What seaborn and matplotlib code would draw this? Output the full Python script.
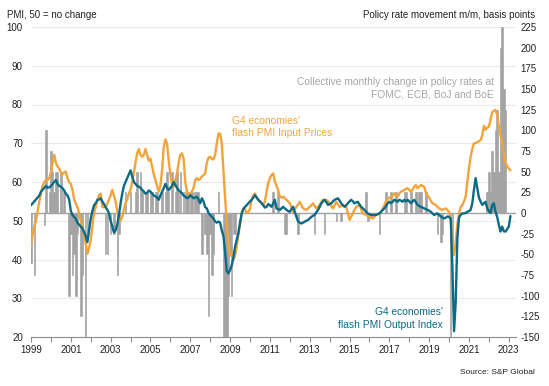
import numpy as np
import pandas as pd
import matplotlib
matplotlib.use("Agg")
import matplotlib.pyplot as plt
import seaborn as sns

# ---------------- data (monthly, Jan 1999 - Feb 2023) ----------------
year_ticks = list(range(1999, 2024))
year_labels = [str(y) if (y - 1999) % 2 == 0 else "" for y in year_ticks]
pmi_ticks = [20, 30, 40, 50, 60, 70, 80, 90, 100]
rate_ticks = list(range(-150, 226, 25))

# G4 flash PMI Output Index
output_index = [
    54.0, 54.5, 55.0, 55.5, 56.0, 56.5, 57.5, 58.0, 58.5, 59.0, 58.5, 58.6,  # 1999
    59.0, 59.5, 60.0, 60.5, 59.5, 59.0, 58.8, 58.4, 57.8, 57.0, 56.5, 55.5,  # 2000
    52.5, 51.5, 51.0, 50.5, 49.5, 49.0, 48.5, 48.0, 47.0, 46.0, 44.5, 47.5,  # 2001
    50.5, 52.5, 54.0, 54.5, 55.3, 55.5, 55.8, 55.0, 54.3, 53.5, 52.8, 52.0,  # 2002
    50.0, 48.5, 47.0, 47.5, 49.0, 51.5, 54.5, 57.0, 59.0, 60.0, 61.0, 62.0,  # 2003
    63.0, 61.5, 60.0, 59.5, 59.0, 58.8, 58.5, 58.0, 57.5, 57.0, 57.2, 57.8,  # 2004
    57.5, 57.0, 56.5, 56.3, 56.0, 55.4, 56.5, 57.5, 58.4, 59.5, 58.5, 57.9,  # 2005
    58.5, 59.0, 60.0, 59.2, 58.5, 57.9, 57.5, 57.1, 56.5, 56.2, 55.8, 56.0,  # 2006
    56.6, 56.2, 55.8, 56.0, 56.2, 55.5, 54.5, 55.8, 55.0, 53.5, 53.2, 52.0,  # 2007
    51.5, 51.0, 50.6, 49.8, 49.5, 49.8, 49.5, 47.5, 46.0, 42.0, 37.0, 36.4,  # 2008
    37.3, 38.5, 40.5, 43.3, 45.0, 46.8, 49.5, 51.9, 53.0, 53.6, 54.0, 54.5,  # 2009
    55.0, 55.4, 56.0, 56.6, 56.0, 55.4, 55.0, 54.5, 54.0, 53.4, 53.6, 54.3,  # 2010
    54.0, 53.6, 54.5, 55.4, 53.2, 53.0, 52.8, 53.2, 53.6, 53.2, 52.8, 52.5,  # 2011
    52.3, 53.0, 53.6, 52.3, 51.0, 49.8, 49.5, 49.3, 49.5, 49.8, 50.0, 50.2,  # 2012
    50.6, 51.0, 51.3, 51.5, 52.2, 52.8, 53.6, 54.5, 55.0, 55.4, 54.8, 54.1,  # 2013
    54.3, 54.5, 55.0, 55.4, 55.6, 55.8, 55.2, 54.5, 54.0, 53.6, 54.0, 54.5,  # 2014
    55.0, 55.4, 55.0, 54.5, 54.7, 54.9, 54.2, 53.6, 53.2, 52.8, 52.3, 51.9,  # 2015
    51.7, 51.5, 51.5, 51.5, 51.5, 51.7, 51.9, 52.3, 52.8, 53.2, 53.8, 54.5,  # 2016
    54.9, 54.5, 54.9, 55.4, 55.2, 54.9, 55.4, 55.2, 54.9, 55.4, 55.0, 55.4,  # 2017
    55.0, 54.5, 55.0, 55.4, 54.8, 54.1, 53.8, 53.6, 53.4, 53.2, 53.0, 52.8,  # 2018
    52.6, 52.3, 51.9, 51.5, 51.7, 51.9, 51.5, 51.1, 50.8, 50.6, 50.8, 51.1,  # 2019
    51.0, 50.5, 38.0, 21.5, 29.0, 45.5, 50.8, 51.5, 51.9, 51.9, 52.0, 52.3,  # 2020
    52.5, 52.8, 54.5, 58.0, 61.0, 58.4, 56.0, 55.0, 54.1, 54.5, 54.9, 53.2,  # 2021
    52.5, 52.0, 54.0, 54.5, 52.3, 51.0, 49.0, 47.2, 48.5, 47.3, 47.2, 47.8,  # 2022
    48.5, 51.2,                                                              # 2023
]

# G4 flash PMI Input Prices
input_prices = [
    43.5, 46.5, 48.5, 50.0, 52.5, 55.0, 57.0, 59.0, 60.0, 60.5, 60.5, 61.0,  # 1999
    62.5, 65.0, 67.0, 65.0, 64.0, 63.5, 62.5, 62.0, 62.5, 62.7, 61.0, 60.0,  # 2000
    59.5, 58.0, 55.5, 54.5, 53.5, 52.0, 50.0, 48.5, 46.5, 44.0, 41.5, 43.0,  # 2001
    45.0, 48.5, 52.0, 53.5, 55.5, 56.5, 57.0, 53.5, 53.5, 53.5, 54.5, 55.5,  # 2002
    56.5, 58.0, 56.5, 55.0, 52.5, 50.5, 50.0, 51.0, 53.0, 54.5, 55.5, 57.0,  # 2003
    58.0, 60.0, 62.5, 65.0, 67.5, 68.5, 67.0, 66.5, 67.0, 68.5, 67.0, 65.5,  # 2004
    66.0, 64.0, 62.0, 60.5, 59.0, 57.5, 59.0, 63.0, 69.0, 71.0, 70.0, 65.5,  # 2005
    62.0, 59.5, 58.8, 60.5, 62.2, 65.0, 67.0, 67.4, 66.0, 60.0, 57.5, 56.6,  # 2006
    57.0, 57.5, 58.5, 60.5, 61.0, 60.5, 60.8, 61.4, 61.8, 62.2, 65.0, 66.3,  # 2007
    66.5, 66.0, 65.8, 67.0, 70.0, 72.5, 72.5, 70.0, 63.0, 56.0, 49.0, 44.0,  # 2008
    41.0, 41.5, 40.0, 41.0, 43.3, 46.5, 49.0, 51.9, 53.2, 53.0, 52.0, 52.3,  # 2009
    53.0, 55.5, 56.5, 57.0, 56.0, 55.4, 55.0, 54.5, 54.0, 55.0, 57.5, 59.7,  # 2010
    61.0, 61.8, 62.2, 60.1, 59.0, 57.9, 56.2, 56.0, 56.2, 55.8, 55.4, 55.0,  # 2011
    54.5, 53.5, 52.3, 53.0, 53.6, 54.2, 54.9, 54.0, 53.2, 53.0, 52.8, 53.2,  # 2012
    53.6, 54.0, 54.5, 53.8, 53.2, 53.6, 54.1, 54.8, 55.4, 55.4, 55.4, 55.0,  # 2013
    54.5, 53.8, 53.2, 54.0, 54.9, 54.2, 53.6, 53.8, 54.1, 53.8, 53.6, 52.0,  # 2014
    50.2, 51.0, 51.9, 52.8, 53.6, 53.8, 54.1, 53.0, 51.9, 51.7, 51.5, 51.2,  # 2015
    51.0, 50.8, 50.6, 51.0, 51.5, 51.7, 51.9, 52.3, 53.0, 54.0, 55.0, 55.5,  # 2016
    56.0, 56.2, 56.5, 57.1, 56.5, 56.2, 57.0, 57.5, 57.7, 57.9, 58.2, 58.4,  # 2017
    58.0, 57.5, 58.0, 58.8, 59.2, 58.4, 58.8, 59.2, 59.0, 58.8, 57.3, 56.5,  # 2018
    56.0, 55.2, 54.5, 54.3, 54.1, 53.6, 53.2, 53.0, 52.8, 53.0, 53.2, 52.8,  # 2019
    52.3, 50.5, 43.5, 41.2, 44.5, 49.0, 51.9, 53.6, 54.0, 55.0, 56.2, 60.0,  # 2020
    63.5, 66.5, 68.5, 70.0, 70.0, 70.3, 70.5, 70.8, 72.0, 74.5, 73.5, 74.0,  # 2021
    74.3, 76.0, 78.0, 78.4, 78.6, 77.3, 74.5, 72.0, 70.0, 67.5, 65.0, 64.0,  # 2022
    63.5, 63.0,                                                              # 2023
]

# Collective monthly change in policy rates (FOMC, ECB, BoJ, BoE), bp
policy_change = [
    -60, 0, -75, 0, 0, 0, 0, 0, -15, 100, 0, 25,          # 1999
    75, 50, 25, 50, 50, 0, 50, 0, 25, 0, 0, -100,         # 2000
    -25, -75, -50, -100, -25, 0, -125, -75, 0, -150, -25, 0,  # 2001
    0, 0, 0, 0, 0, 0, 0, 0, 0, -50, -50, 0,               # 2002
    -25, 0, -25, 0, -75, -25, 0, 0, 0, 25, 0, 0,          # 2003
    25, 0, 0, 25, 50, 0, 50, 25, 0, 25, 25, 0,            # 2004
    25, 25, 0, 25, 25, 0, 0, 25, 0, 25, 50, 25,           # 2005
    0, 50, 0, 25, 50, 25, 50, 0, 25, 25, 25, 25,          # 2006
    25, 25, 0, 25, 25, 25, 0, -50, 0, -25, -50, -125,     # 2007
    -25, -75, -50, 0, 0, 25, 0, 0, -150, -150, -150, -100,  # 2008
    -50, -100, -25, -25, 0, 0, 0, 0, 0, 0, 0, 0,          # 2009
    0, 0, 0, 0, 0, 0, 0, 0, 0, 0, 0, 0,                   # 2010
    0, 0, 25, 0, 0, 25, 0, 0, 0, -25, -25, 0,             # 2011
    0, 0, 0, 0, 0, -25, 0, 0, 0, 0, 0, 0,                 # 2012
    0, 0, 0, -25, 0, 0, 0, 0, 0, -25, 0, 0,               # 2013
    0, 0, 0, 0, -10, 0, 0, -10, 0, 0, 0, 0,               # 2014
    0, 0, 0, 0, 0, 0, 0, 0, 0, 0, 25, -10,                # 2015
    0, -5, 0, 0, 0, 0, -25, 0, 0, 0, 25, 0,               # 2016
    0, 25, 0, 0, 25, 0, 0, 0, 0, 25, 25, 0,               # 2017
    0, 25, 0, 0, 25, 0, 25, 25, 0, 0, 25, 0,              # 2018
    0, 0, 0, 0, 0, -25, 0, -35, -25, 0, 0, 0,             # 2019
    0, -150, -50, 0, 0, 0, 0, 0, 0, 0, 0, 0,              # 2020
    0, 0, 0, 0, 0, 0, 0, 0, 0, 0, 0, 25,                  # 2021
    50, 25, 75, 50, 100, 125, 50, 200, 225, 150, 125, 0,  # 2022
    0, 0,                                                 # 2023
]

n = len(output_index)
dates = [1999 + i / 12 for i in range(n)]
df = pd.DataFrame({"date": dates, "output": output_index,
                   "input": input_prices, "rates": policy_change})

# ---------------- styling ----------------
sns.set_theme(style="white")
plt.rcParams["font.family"] = ["Liberation Sans", "DejaVu Sans"]

ORANGE = "#F2A43A"
TEAL = "#0B6A85"
BARGREY = "#A3A3A3"
TXT = "#222222"
W, H = 549, 386

fig = plt.figure(figsize=(W / 100, H / 100), dpi=100)
L, R = 30.5 / W, 516 / W
B, T = 1 - 337 / H, 1 - 27 / H
ax = fig.add_axes([L, B, R - L, T - B])
ax_bar = ax.twinx()
ax_line = ax.twinx()

x0 = 1999 - 0.5 / 19.92
x1 = 1999 + (516 - 30.7) / 19.92

# base axis: grid, left ticks, x axis
ax.set_ylim(20, 100)
ax.set_yticks(pmi_ticks)
ax.set_yticklabels([str(v) for v in pmi_ticks])
ax.grid(axis="y", color="#E9E9E9", lw=0.8)
ax.grid(axis="x", visible=False)
for s in ["top", "left", "right"]:
    ax.spines[s].set_visible(False)
ax.spines["bottom"].set_color("#8C8C8C")
ax.spines["bottom"].set_linewidth(0.8)
ax.tick_params(axis="y", length=0, pad=5.5, labelsize=7, labelcolor=TXT)
ax.tick_params(axis="x", direction="out", length=3.5, width=0.8,
               color="#8C8C8C", pad=2.5, labelsize=7, labelcolor=TXT, bottom=True)

# bars on right axis
sns.barplot(data=df, x="date", y="rates", native_scale=True, color=BARGREY,
            saturation=1, errorbar=None, width=0.9, linewidth=0.45,
            edgecolor=BARGREY, ax=ax_bar)
ax_bar.axhline(0, color="#A0A0A0", lw=1.0, zorder=0.5)
ax_bar.set_ylim(-150, 225)
ax_bar.set_yticks(rate_ticks)
ax_bar.set_yticklabels([str(v) for v in rate_ticks])
ax_bar.tick_params(axis="y", length=0, pad=3, labelsize=7, labelcolor=TXT,
                   right=True, labelright=True, left=False, labelleft=False)
ax_bar.tick_params(axis="x", bottom=False, labelbottom=False)
ax_bar.set_xlabel("")
ax_bar.set_ylabel("")
ax_bar.grid(False)
for s in ax_bar.spines.values():
    s.set_visible(False)

# lines
sns.lineplot(data=df, x="date", y="input", color=ORANGE, lw=1.7, ax=ax_line)
sns.lineplot(data=df, x="date", y="output", color=TEAL, lw=1.7, ax=ax_line)
ax_line.set_ylim(20, 100)
ax_line.set_xlabel("")
ax_line.set_ylabel("")
ax_line.tick_params(axis="y", right=False, labelright=False, left=False, labelleft=False)
ax_line.tick_params(axis="x", bottom=False, labelbottom=False)
ax_line.grid(False)
for s in ax_line.spines.values():
    s.set_visible(False)

for a in (ax, ax_bar, ax_line):
    a.set_xlim(x0, x1)
ax.set_xticks(year_ticks)
ax.set_xticklabels(year_labels)
ax.set_xlabel("")

# ---------------- texts ----------------
def fx(px):
    return px / W

def fy(py):
    return 1 - py / H

fig.text(fx(7), fy(15), "PMI, 50 = no change", fontsize=7, color=TXT,
         ha="left", va="center")
fig.text(fx(535), fy(15), "Policy rate movement m/m, basis points", fontsize=7,
         color=TXT, ha="right", va="center")
fig.text(fx(494), fy(88.5), "Collective monthly change in policy rates at\nFOMC, ECB, BoJ and BoE",
         fontsize=7.4, color="#A6A6A6", ha="right", va="center",
         multialignment="right", linespacing=1.3)
fig.text(fx(232), fy(127), "G4 economies'\nflash PMI Input Prices",
         fontsize=7.4, color=ORANGE, ha="left", va="center",
         multialignment="left", linespacing=1.3)
fig.text(fx(443), fy(318.5), "G4 economies'\nflash PMI Output Index",
         fontsize=7.4, color=TEAL, ha="right", va="center",
         multialignment="right", linespacing=1.3)
fig.text(fx(535), fy(373), "Source: S&P Global", fontsize=6, color=TXT,
         ha="right", va="center")

fig.savefig("out.png", dpi=100)
